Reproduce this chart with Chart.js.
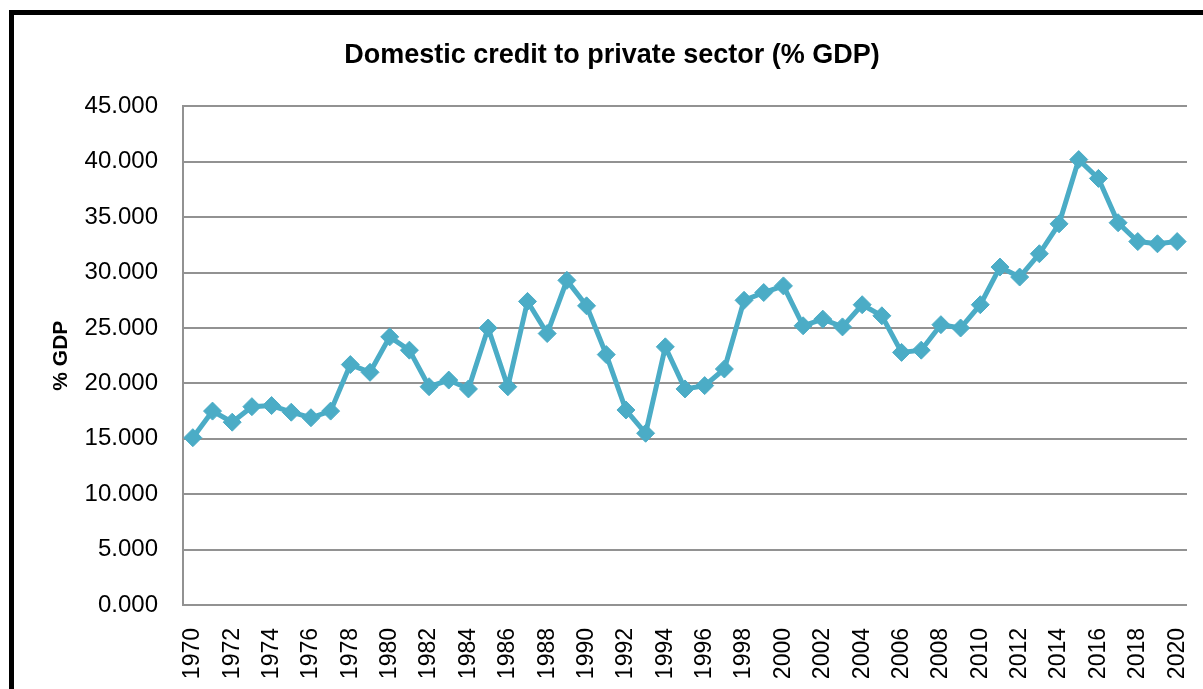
<!DOCTYPE html>
<html>
<head>
<meta charset="utf-8">
<script src="https://cdn.jsdelivr.net/npm/chart.js@4.4.0/dist/chart.umd.min.js"></script>
<style>
    html, body { margin: 0; padding: 0; background: #fff; overflow: hidden; }
    #wrap { position: relative; width: 1203px; height: 689px; overflow: hidden; }
    #frame { position: absolute; left: 9px; top: 10px; width: 1300px; height: 800px; border: 5px solid #000; }
    #myChart { position: absolute; left: 0; top: 0; }
</style>
</head>
<body>
<div id="wrap">
    <div id="frame"></div>
    <canvas id="myChart" width="1225" height="689"></canvas>
</div>
<script>
// years on the x axis
var years = [];
for (var y = 1970; y <= 2020; y++) {
    years.push(String(y));
}

// domestic credit to private sector, % of GDP
var credit = [
    15.1, 17.5, 16.5, 17.9, 18.0, 17.4, 16.9, 17.5, 21.7, 21.0,
    24.2, 23.0, 19.7, 20.3, 19.5, 25.0, 19.7, 27.4, 24.5, 29.3,
    27.0, 22.6, 17.6, 15.5, 23.3, 19.5, 19.8, 21.3, 27.5, 28.2,
    28.8, 25.2, 25.8, 25.1, 27.1, 26.1, 22.8, 23.0, 25.3, 25.0,
    27.1, 30.5, 29.6, 31.7, 34.4, 40.2, 38.5, 34.5, 32.8, 32.6,
    32.8
];

var yTicks = [0, 5, 10, 15, 20, 25, 30, 35, 40, 45];

var lineColor = '#4BACC6';
var gridColor = '#929292';

var ctx = document.getElementById("myChart");

var myChart = new Chart(ctx, {
    type: 'line',
    data: {
        labels: years,
        datasets: [{
            label: 'Domestic credit',
            data: credit,
            borderColor: lineColor,
            backgroundColor: lineColor,
            borderWidth: 5,
            pointStyle: 'rectRot',
            pointRadius: 9,
            pointBorderWidth: 1,
            pointBackgroundColor: lineColor,
            pointBorderColor: lineColor,
            tension: 0
        }]
    },
    options: {
        responsive: false,
        animation: false,
        layout: {
            padding: { left: 37, right: 38, top: 0, bottom: 0 }
        },
        plugins: {
            legend: { display: false },
            tooltip: { enabled: false },
            title: {
                display: true,
                text: 'Domestic credit to private sector (% GDP)',
                color: '#000',
                font: { family: 'Liberation Sans', size: 27, weight: 'bold' },
                padding: { top: 39, bottom: 35 }
            }
        },
        scales: {
            x: {
                offset: true,
                grid: { display: false },
                border: { display: false },
                ticks: {
                    autoSkip: false,
                    maxRotation: 90,
                    minRotation: 90,
                    padding: 15,
                    color: '#000',
                    font: { family: 'Liberation Sans', size: 23 },
                    callback: function (val, i) {
                        return i % 2 === 0 ? years[i] : '';
                    }
                },
                afterFit: function (scale) {
                    scale.height = 84;
                }
            },
            y: {
                min: 0,
                max: 45,
                afterBuildTicks: function (scale) {
                    scale.ticks = yTicks.map(function (v) { return { value: v }; });
                },
                grid: {
                    color: gridColor,
                    lineWidth: 2,
                    drawTicks: false
                },
                border: { display: true, color: gridColor, width: 2 },
                ticks: {
                    padding: 25,
                    color: '#000',
                    font: { family: 'Liberation Sans', size: 24 },
                    callback: function (val) {
                        return val.toFixed(3);
                    }
                },
                title: {
                    display: true,
                    text: '% GDP',
                    color: '#000',
                    font: { family: 'Liberation Sans', size: 21, weight: 'bold' },
                    padding: { top: 12, bottom: 0 }
                },
                afterFit: function (scale) {
                    scale.width = 146;
                }
            }
        }
    }
});
</script>
</body>
</html>
